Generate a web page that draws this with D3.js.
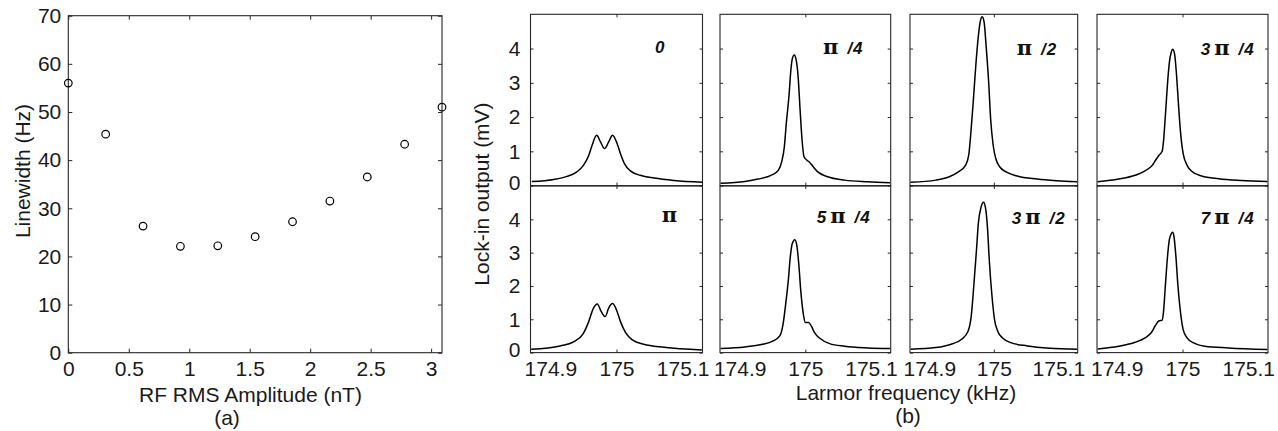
<!DOCTYPE html>
<html><head><meta charset="utf-8">
<script src="https://cdn.jsdelivr.net/npm/d3@7"></script>
<style>body{margin:0;background:#fff}svg{display:block}</style>
</head><body>
<svg id="c" width="1278" height="431"></svg>
<script>
// ---------------- data: panel (a) ----------------
const rfAmplitude = [0, 0.309, 0.618, 0.927, 1.236, 1.545, 1.854, 2.163, 2.472, 2.781, 3.09];
const linewidthHz = [56.0, 45.4, 26.3, 22.1, 22.2, 24.1, 27.2, 31.5, 36.5, 43.3, 51.0];
const xTicksA = [0, 0.5, 1, 1.5, 2, 2.5, 3];
const yTicksA = [0, 10, 20, 30, 40, 50, 60, 70];

// ---------------- data: panel (b) ----------------
const phaseLabels = ["0", "π/4", "π/2", "3π/4", "π", "5π/4", "3π/2", "7π/4"];
const xTicksB = [174.9, 175, 175.1];
const yTicksB = [0, 1, 2, 3, 4];

const freq_0   = [174.872,174.905,174.925,174.940,174.950,174.958,174.963,174.970,174.976,174.982,174.988,174.994,175.001,175.006,175.012,175.021,175.036,175.057,175.087,175.130];
const signal_0 = [0.12,0.18,0.27,0.40,0.59,0.88,1.17,1.47,1.27,1.08,1.27,1.47,1.22,0.93,0.64,0.43,0.30,0.22,0.15,0.10];

const freq_pi4   = [174.871,174.908,174.928,174.949,174.959,174.964,174.968,174.971,174.975,174.978,174.980,174.983,174.986,174.989,174.992,174.995,174.998,175.002,175.007,175.012,175.019,175.034,175.060,175.095,175.129];
const signal_pi4 = [0.07,0.12,0.19,0.31,0.45,0.70,1.13,1.82,2.60,3.38,3.69,3.81,3.67,3.18,2.21,1.33,0.84,0.75,0.67,0.55,0.40,0.26,0.16,0.11,0.08];

const freq_pi2   = [174.871,174.910,174.930,174.945,174.956,174.961,174.964,174.968,174.972,174.976,174.979,174.982,174.985,174.988,174.992,174.995,174.999,175.003,175.009,175.019,175.036,175.067,175.097,175.129];
const signal_pi2 = [0.10,0.16,0.25,0.40,0.59,0.88,1.46,2.43,3.50,4.37,4.80,4.93,4.76,4.08,3.01,1.95,1.17,0.79,0.55,0.40,0.28,0.19,0.14,0.11];

const freq_3pi4   = [174.871,174.903,174.928,174.943,174.954,174.959,174.964,174.969,174.971,174.974,174.977,174.980,174.983,174.985,174.988,174.991,174.994,174.997,175.001,175.007,175.014,175.029,175.055,175.090,175.129];
const signal_3pi4 = [0.11,0.19,0.30,0.43,0.59,0.74,0.88,1.00,1.27,2.05,2.92,3.59,3.90,3.98,3.84,3.21,2.34,1.56,0.93,0.59,0.42,0.28,0.20,0.15,0.12];

const freq_pi   = [174.871,174.915,174.935,174.950,174.958,174.965,174.971,174.977,174.983,174.988,174.994,175.000,175.006,175.014,175.024,175.041,175.072,175.129];
const signal_pi = [0.10,0.20,0.32,0.58,0.93,1.33,1.46,1.23,1.08,1.33,1.47,1.28,0.93,0.59,0.38,0.25,0.16,0.08];

const freq_5pi4   = [174.871,174.908,174.933,174.951,174.961,174.966,174.970,174.974,174.977,174.980,174.984,174.987,174.990,174.993,174.997,175.000,175.005,175.009,175.014,175.022,175.037,175.060,175.095,175.129];
const signal_5pi4 = [0.12,0.17,0.24,0.35,0.50,0.85,1.45,2.16,2.86,3.27,3.39,3.22,2.66,1.86,1.15,0.90,0.90,0.80,0.60,0.43,0.27,0.19,0.14,0.12];

const freq_3pi2   = [174.871,174.910,174.935,174.950,174.960,174.965,174.969,174.973,174.976,174.980,174.984,174.987,174.990,174.993,174.997,175.001,175.006,175.014,175.026,175.052,175.087,175.129];
const signal_3pi2 = [0.10,0.15,0.26,0.40,0.64,1.10,2.03,3.06,3.89,4.35,4.51,4.35,3.78,2.75,1.72,1.00,0.64,0.43,0.30,0.20,0.13,0.10];

const freq_7pi4   = [174.871,174.903,174.928,174.943,174.953,174.959,174.964,174.969,174.971,174.974,174.977,174.980,174.983,174.985,174.987,174.990,174.993,174.997,175.001,175.007,175.017,175.034,175.070,175.129];
const signal_7pi4 = [0.11,0.19,0.31,0.44,0.61,0.82,0.95,0.97,1.20,2.02,2.83,3.39,3.57,3.61,3.49,2.88,2.02,1.20,0.69,0.44,0.29,0.19,0.14,0.09];

const spectraFreq   = [freq_0, freq_pi4, freq_pi2, freq_3pi4, freq_pi, freq_5pi4, freq_3pi2, freq_7pi4];
const spectraSignal = [signal_0, signal_pi4, signal_pi2, signal_3pi4, signal_pi, signal_5pi4, signal_3pi2, signal_7pi4];

// ---------------- layout ----------------
const FONT = '"Liberation Sans", Arial, sans-serif';
const INK = '#1a1a1a';
const BOX = '#262626';
const svg = d3.select('#c');
const fmt = d3.format('~g');

// ---------- panel (a) ----------
const A = {l: 68.3, r: 442, t: 15.7, b: 352.7};
const xA = d3.scaleLinear().domain([0, 3.09]).range([A.l, A.r]);
const yA = d3.scaleLinear().domain([0, 70]).range([A.b, A.t]);
const gA = svg.append('g');

function styleAxis(g) {
  g.select('.domain').remove();
  g.selectAll('line').attr('stroke', BOX).attr('stroke-width', 1);
  g.selectAll('text').attr('fill', INK).style('font-family', FONT);
}
gA.append('g').attr('transform', `translate(0,${A.b})`)
  .call(d3.axisBottom(xA).tickValues(xTicksA).tickFormat(fmt).tickSize(-4).tickPadding(8))
  .call(styleAxis).selectAll('text').style('font-size', '21px');
gA.append('g').attr('transform', `translate(0,${A.t})`)
  .call(d3.axisTop(xA).tickValues(xTicksA).tickFormat('').tickSize(-4)).call(styleAxis);
gA.append('g').attr('transform', `translate(${A.l},0)`)
  .call(d3.axisLeft(yA).tickValues(yTicksA).tickFormat(fmt).tickSize(-4).tickPadding(7))
  .call(styleAxis).selectAll('text').style('font-size', '21px');
gA.append('g').attr('transform', `translate(${A.r},0)`)
  .call(d3.axisRight(yA).tickValues(yTicksA).tickFormat('').tickSize(-4)).call(styleAxis);
gA.append('rect').attr('x', A.l).attr('y', A.t).attr('width', A.r - A.l).attr('height', A.b - A.t)
  .attr('fill', 'none').attr('stroke', BOX).attr('stroke-width', 1.1);
gA.selectAll('circle.pt').data(rfAmplitude.map((x, i) => [x, linewidthHz[i]])).enter()
  .append('circle').attr('class', 'pt')
  .attr('cx', d => xA(d[0])).attr('cy', d => yA(d[1])).attr('r', 3.8)
  .attr('fill', 'none').attr('stroke', '#000').attr('stroke-width', 1.2);
gA.append('text').attr('x', 250.5).attr('y', 401.5).attr('text-anchor', 'middle')
  .style('font-family', FONT).style('font-size', '21px').attr('fill', INK).text('RF RMS Amplitude (nT)');
gA.append('text').attr('x', 227).attr('y', 425).attr('text-anchor', 'middle')
  .style('font-family', FONT).style('font-size', '21px').attr('fill', INK).text('(a)');
gA.append('text').attr('transform', 'translate(29.5,171) rotate(-90)').attr('text-anchor', 'middle')
  .style('font-family', FONT).style('font-size', '21px').attr('fill', INK).text('Linewidth (Hz)');

// ---------- panel (b) ----------
const colL = [530.5, 720, 910, 1097];
const colR = [702.5, 890.7, 1077.7, 1268];
const rowT = [14.3, 186];
const rowB = [185.6, 352.6];
const labelStart = [655, 823, 1016.7, 1200.7, 661.7, 816.7, 1011.7, 1200.7];
const labelBase = [53, 54, 55, 55, 222, 223, 224, 224];

const line = d3.line().curve(d3.curveMonotoneX);

phaseLabels.forEach((lab, i) => {
  const r = Math.floor(i / 4), c = i % 4;
  const x = d3.scaleLinear().domain([174.87, 175.13]).range([colL[c], colR[c]]);
  const y = d3.scaleLinear().domain([0, 5]).range([rowB[r], rowT[r]]);
  const g = svg.append('g');

  const bx = g.append('g').attr('transform', `translate(0,${rowB[r]})`)
    .call(d3.axisBottom(x).tickValues(xTicksB).tickFormat(fmt).tickSize(-3).tickPadding(8))
    .call(styleAxis);
  bx.selectAll('.tick').filter(d => d !== 175).select('line').remove();
  if (r === 0) bx.selectAll('text').remove();
  else bx.selectAll('text').style('font-size', '21px');

  g.append('g').attr('transform', `translate(0,${rowT[r]})`)
    .call(d3.axisTop(x).tickValues([175]).tickFormat('').tickSize(-3)).call(styleAxis);

  const ly = g.append('g').attr('transform', `translate(${colL[c]},0)`)
    .call(d3.axisLeft(y).tickValues(yTicksB).tickFormat(fmt).tickSize(-3).tickPadding(10))
    .call(styleAxis);
  if (c !== 0) ly.selectAll('text').remove();
  else {
    ly.selectAll('text').style('font-size', '21px');
    ly.selectAll('.tick').filter(d => d === 0).select('text').attr('transform', 'translate(0,-3)');
  }
  g.append('g').attr('transform', `translate(${colR[c]},0)`)
    .call(d3.axisRight(y).tickValues(yTicksB).tickFormat('').tickSize(-3)).call(styleAxis);

  g.append('rect').attr('x', colL[c]).attr('y', rowT[r])
    .attr('width', colR[c] - colL[c]).attr('height', rowB[r] - rowT[r])
    .attr('fill', 'none').attr('stroke', BOX).attr('stroke-width', 1.1);

  const pts = spectraFreq[i].map((f, k) => [x(f), y(spectraSignal[i][k])]);
  g.append('path').attr('d', line(pts)).attr('fill', 'none')
    .attr('stroke', '#000').attr('stroke-width', 1.5).attr('stroke-linejoin', 'round');

  // phase label
  const t = g.append('text').attr('x', labelStart[i]).attr('y', labelBase[i]).attr('fill', '#111');
  const numStyle = s => s.style('font-family', FONT).style('font-style', 'italic').style('font-weight', 'bold').style('font-size', '17px');
  if (lab.indexOf('π') < 0) {
    numStyle(t.append('tspan').text(lab));
  } else {
    const [pre, post] = lab.split('π');
    if (pre) numStyle(t.append('tspan').text(pre));
    t.append('tspan').attr('dx', pre ? 4 : 0).text('π')
      .style('font-family', '"DejaVu Serif", serif').style('font-weight', 'bold').style('font-size', '21px');
    if (post) {
      const parts = post.split('/');
      numStyle(t.append('tspan').attr('dx', 9).text('/'));
      numStyle(t.append('tspan').attr('dx', 1).text(parts[1]));
    }
  }
});

svg.append('text').attr('transform', 'translate(489,194) rotate(-90)').attr('text-anchor', 'middle')
  .style('font-family', FONT).style('font-size', '21px').attr('fill', INK).text('Lock-in output (mV)');
svg.append('text').attr('x', 906).attr('y', 400).attr('text-anchor', 'middle')
  .style('font-family', FONT).style('font-size', '21px').attr('fill', INK).text('Larmor frequency (kHz)');
svg.append('text').attr('x', 908).attr('y', 423).attr('text-anchor', 'middle')
  .style('font-family', FONT).style('font-size', '21px').attr('fill', INK).text('(b)');
</script>
</body></html>
